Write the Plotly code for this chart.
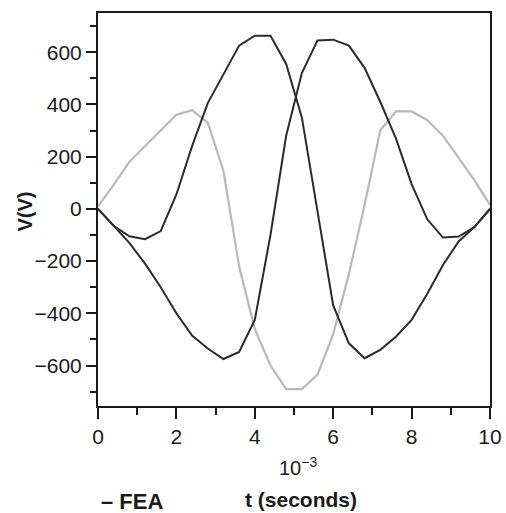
import plotly.graph_objects as go

# time samples (ms, axis shows x10^-3 s)
t_ms = [0, 0.4, 0.8, 1.2, 1.6, 2.0, 2.4, 2.8, 3.2, 3.6, 4.0, 4.4, 4.8, 5.2,
        5.6, 6.0, 6.4, 6.8, 7.2, 7.6, 8.0, 8.4, 8.8, 9.2, 9.6, 10.0]

# dark curve with early shallow dip and peak near 4.2 ms
v_phase_a = [0, -65, -105, -116, -85, 55, 240, 405, 515, 625, 663, 663, 555, 350,
             -10, -370, -515, -572, -540, -490, -425, -325, -215, -125, -70, 0]

# dark curve with early deep trough and peak near 5.8 ms
v_phase_b = [0, -65, -130, -210, -300, -400, -485, -535, -575, -548, -425, -100, 280, 520,
             645, 648, 625, 540, 410, 270, 95, -40, -110, -106, -70, 0]

# light grey curve
v_phase_c = [10, 92, 180, 241, 301, 360, 378, 330, 146, -220, -460, -600, -690, -690,
             -635, -480, -250, 15, 300, 373, 373, 340, 280, 195, 110, 15]

x_ticks = [0, 2, 4, 6, 8, 10]
y_ticks = [-600, -400, -200, 0, 200, 400, 600]
y_tick_text = ["\u2212600", "\u2212400", "\u2212200", "0", "200", "400", "600"]

FONT = "Liberation Sans, Arial, Helvetica, sans-serif"
INK = "#1a1a1a"

fig = go.Figure()
fig.add_trace(go.Scatter(x=t_ms, y=v_phase_c, mode="lines",
                         line=dict(color="#b8b8b8", width=2.2), showlegend=False))
fig.add_trace(go.Scatter(x=t_ms, y=v_phase_a, mode="lines",
                         line=dict(color="#2b2b2b", width=2), showlegend=False))
fig.add_trace(go.Scatter(x=t_ms, y=v_phase_b, mode="lines",
                         line=dict(color="#2b2b2b", width=2), showlegend=False))

fig.update_layout(
    width=506, height=513, autosize=False,
    margin=dict(l=98, r=16, t=13, b=107),
    paper_bgcolor="white", plot_bgcolor="white",
    font=dict(family=FONT, color=INK),
    showlegend=False,
)

fig.update_xaxes(
    range=[0, 10], tickvals=x_ticks, ticktext=[str(v) for v in x_ticks],
    automargin=False,
    showgrid=False, zeroline=False,
    showline=True, linecolor=INK, linewidth=2, mirror=True,
    ticks="outside", ticklen=11, tickwidth=2, tickcolor=INK,
    tickfont=dict(size=21, family=FONT, color=INK),
    minor=dict(dtick=1, tick0=0, ticks="outside", ticklen=7, tickwidth=2,
               tickcolor=INK, showgrid=False),
)
fig.update_yaxes(
    range=[-755, 750], tickvals=y_ticks, ticktext=y_tick_text,
    automargin=False,
    showgrid=False, zeroline=False,
    showline=True, linecolor=INK, linewidth=2, mirror=True,
    ticks="outside", ticklen=10, tickwidth=2, tickcolor=INK,
    tickfont=dict(size=21, family=FONT, color=INK),
    minor=dict(dtick=100, tick0=0, ticks="outside", ticklen=6, tickwidth=2,
               tickcolor=INK, showgrid=False),
)

fig.add_annotation(text="10<sup>\u22123</sup>", xref="paper", yref="paper",
                   x=0.51, y=-0.155, xanchor="center", yanchor="middle",
                   showarrow=False, font=dict(size=20, family=FONT, color=INK))
fig.add_annotation(text="<b>t (seconds)</b>", xref="paper", yref="paper",
                   x=0.518, y=-0.238, xanchor="center", yanchor="middle",
                   showarrow=False, font=dict(size=21, family=FONT, color=INK))
fig.add_annotation(text="<b>\u2013 FEA</b>", xref="paper", yref="paper",
                   x=0.171, y=-0.244, xanchor="right", yanchor="middle",
                   showarrow=False, font=dict(size=22, family=FONT, color=INK))
fig.add_annotation(text="<b>V(V)</b>", xref="paper", yref="paper",
                   x=-0.185, y=0.496, xanchor="center", yanchor="middle",
                   textangle=-90, showarrow=False,
                   font=dict(size=20, family=FONT, color=INK))

fig.write_html(
    "out.html",
    config={"responsive": False, "displayModeBar": False},
    post_script="document.body.style.margin='0';document.body.style.overflow='hidden';",
)
